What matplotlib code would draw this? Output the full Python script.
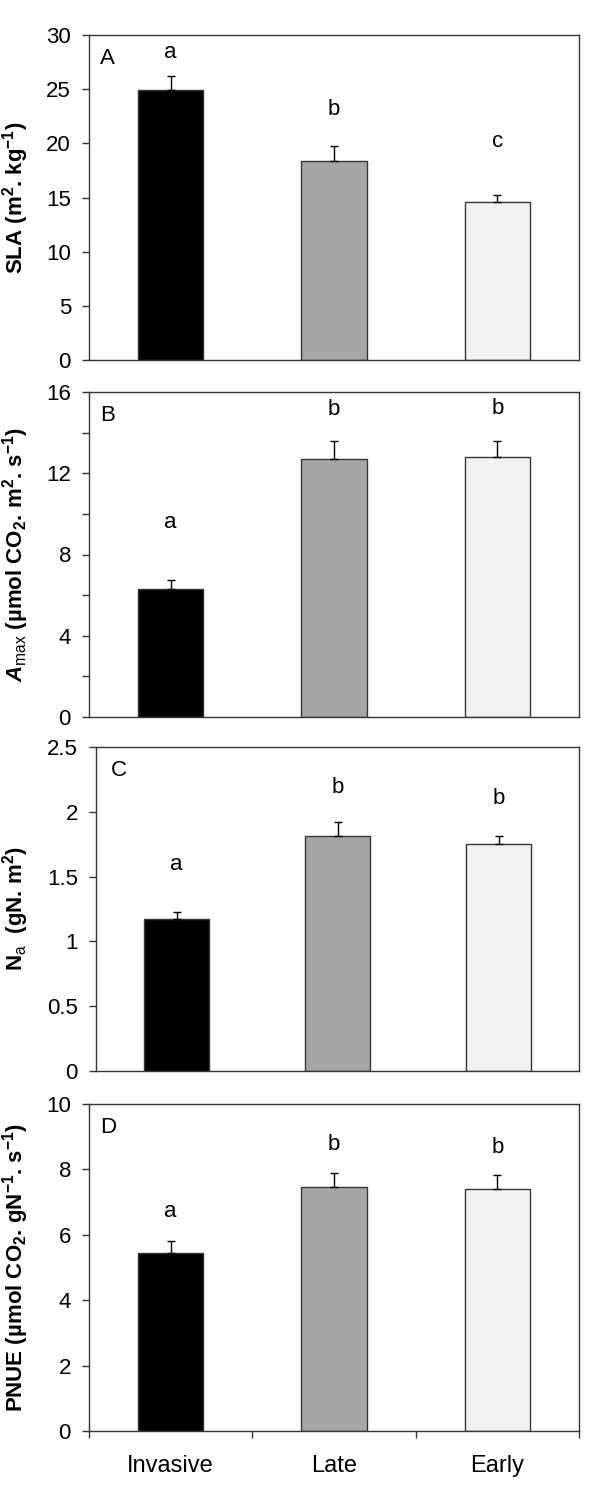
import numpy as np
import matplotlib
matplotlib.use('Agg')
import matplotlib.pyplot as plt
from matplotlib.ticker import MultipleLocator, NullLocator, FixedLocator

plt.rcParams['font.family'] = ['Liberation Sans', 'DejaVu Sans']
plt.rcParams['mathtext.fontset'] = 'custom'
plt.rcParams['mathtext.rm'] = 'Liberation Sans'
plt.rcParams['mathtext.it'] = 'Liberation Sans:italic'
plt.rcParams['mathtext.bf'] = 'Liberation Sans:bold'
plt.rcParams['mathtext.bfit'] = 'Liberation Sans:bold:italic'

# --- data ---
groups = ['Invasive', 'Late', 'Early']
bar_colors = ['#000000', '#a6a6a6', '#f2f2f2']

sla = [24.9, 18.4, 14.6]
sla_err = [1.3, 1.4, 0.6]
sla_letters = ['a', 'b', 'c']
sla_letter_y = [28.4, 23.1, 20.2]

amax = [6.3, 12.7, 12.8]
amax_err = [0.45, 0.9, 0.8]
amax_letters = ['a', 'b', 'b']
amax_letter_y = [9.6, 15.15, 15.2]

na = [1.175, 1.81, 1.75]
na_err = [0.05, 0.11, 0.06]
na_letters = ['a', 'b', 'b']
na_letter_y = [1.59, 2.19, 2.10]

pnue = [5.45, 7.45, 7.41]
pnue_err = [0.37, 0.45, 0.43]
pnue_letters = ['a', 'b', 'b']
pnue_letter_y = [6.7, 8.75, 8.67]

W, H = 600, 1501
fig = plt.figure(figsize=(W / 100, H / 100), dpi=100)

# panel boxes in pixels: left, right, top, bottom
boxes = [(89, 579, 35, 360), (89, 579, 392, 717),
         (96, 579, 747, 1071), (89, 579, 1104, 1431)]

panels = [
    ('A', sla, sla_err, sla_letters, sla_letter_y, 30, 5, None,
     r'SLA (m$^{\mathbf{2}}$. kg$^{\mathbf{-1}}$)', [str(v) for v in range(0, 31, 5)]),
    ('B', amax, amax_err, amax_letters, amax_letter_y, 16, 4, 2,
     r'$\mathbfit{A}_{\mathrm{max}}$ (µmol CO$_{\mathbf{2}}$. m$^{\mathbf{2}}$. s$^{\mathbf{-1}}$)', None),
    ('C', na, na_err, na_letters, na_letter_y, 2.5, 0.5, None,
     r'N$_{\mathrm{a}}$  (gN. m$^{\mathbf{2}}$)', ['0', '0.5', '1', '1.5', '2', '2.5']),
    ('D', pnue, pnue_err, pnue_letters, pnue_letter_y, 10, 2, None,
     r'PNUE (µmol CO$_{\mathbf{2}}$. gN$^{\mathbf{-1}}$. s$^{\mathbf{-1}}$)', None),
]

x = np.arange(len(groups)) + 0.5
spine_col = '#363636'

for i, (tag, vals, errs, letters, ly, ymax, major, minor, ylab, yticklabels) in enumerate(panels):
    l, r, t, b = boxes[i]
    ax = fig.add_axes([l / W, 1 - b / H, (r - l) / W, (b - t) / H])
    ax.bar(x, vals, width=0.4, color=bar_colors, edgecolor=spine_col, linewidth=1, zorder=2)
    ax.errorbar(x, vals, yerr=[[0] * 3, errs], fmt='none', ecolor='black',
                elinewidth=1, capsize=3, capthick=1, zorder=3)
    for xi, lab, yy in zip(x, letters, ly):
        ax.text(xi, yy, lab, ha='center', va='center', fontsize=16)
    ax.text(0.022 if tag != 'C' else 0.03, 0.928, tag, transform=ax.transAxes,
            ha='left', va='center', fontsize=16)

    ax.set_xlim(0, 3)
    ax.set_ylim(0, ymax)
    ax.yaxis.set_major_locator(MultipleLocator(major))
    if minor:
        ax.yaxis.set_minor_locator(MultipleLocator(minor))
    if yticklabels:
        ax.set_yticks(np.arange(0, ymax + major / 2, major))
        ax.set_yticklabels(yticklabels)
    ax.tick_params(axis='y', which='both', direction='out', length=5, width=1,
                   color=spine_col, labelsize=16, pad=8)
    for s in ax.spines.values():
        s.set_color(spine_col)
        s.set_linewidth(1)

    ax.set_ylabel(ylab, fontsize=16, fontweight='bold')
    ax.yaxis.set_label_coords((16 - l) / (r - l), 0.5)
    ax.yaxis.label.set_va('center')

    if tag == 'D':
        ax.xaxis.set_major_locator(FixedLocator([0, 1, 2, 3]))
        ax.xaxis.set_minor_locator(FixedLocator(x))
        ax.set_xticklabels([])
        ax.set_xticklabels(groups, minor=True)
        ax.tick_params(axis='x', which='major', direction='out', length=5,
                       width=1, color=spine_col)
        ax.tick_params(axis='x', which='minor', length=0, labelsize=17, pad=17)
    else:
        ax.xaxis.set_major_locator(NullLocator())

fig.savefig('out.png', dpi=100)
